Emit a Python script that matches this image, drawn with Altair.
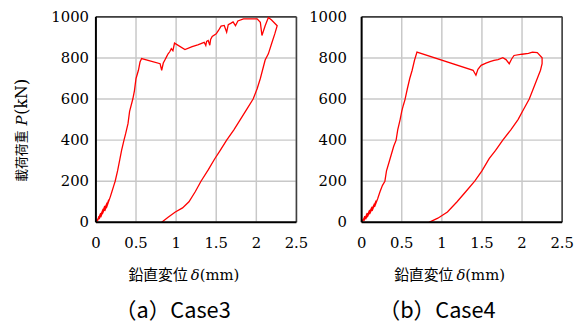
import altair as alt
import pandas as pd

# Case3: vertical displacement (mm) and load (kN)
c3_d = [0, 0.02, 0.01, 0.04, 0.02, 0.06, 0.04, 0.09, 0.06, 0.11, 0.08, 0.14, 0.11, 0.16, 0.13, 0.18,
        0.20, 0.22, 0.24, 0.27, 0.30, 0.32, 0.35, 0.37, 0.40, 0.42, 0.46, 0.48, 0.50, 0.53, 0.55, 0.57,
        0.80, 0.82, 0.84, 0.86, 0.88, 0.90, 0.92, 0.94, 0.96, 0.98, 1.11, 1.20, 1.27, 1.35, 1.37, 1.38,
        1.40, 1.42, 1.43, 1.45, 1.50, 1.53, 1.56, 1.60, 1.63, 1.65, 1.68, 1.71, 1.74, 1.77, 1.84, 2.01,
        2.05, 2.07, 2.11, 2.15, 2.19, 2.26,
        2.23, 2.19, 2.15, 2.11, 2.08, 2.05, 2.01, 1.96, 1.88, 1.80, 1.72, 1.63, 1.55, 1.48, 1.40, 1.31,
        1.24, 1.16, 1.08, 0.99, 0.90, 0.82]
c3_p = [0, 15, 3, 30, 8, 45, 15, 65, 25, 80, 40, 95, 55, 110, 70, 125,
        150, 175, 200, 250, 310, 350, 400, 430, 480, 540, 600, 640, 700, 740, 780, 797,
        772, 740, 775, 790, 805, 820, 830, 845, 835, 872, 841, 855, 864, 876, 860, 880,
        885, 862, 890, 905, 917, 935, 955, 958, 925, 962, 968, 975, 957, 980, 990, 990,
        973, 909, 957, 997, 985, 957,
        917, 869, 820, 790, 745, 700, 650, 600, 550, 500, 450, 400, 350, 308, 255, 200,
        150, 100, 70, 50, 25, 0]

# Case4
c4_d = [0, 0.02, 0.01, 0.04, 0.03, 0.07, 0.05, 0.10, 0.07, 0.13, 0.10, 0.16, 0.13, 0.18, 0.16, 0.20,
        0.23, 0.26, 0.29, 0.31, 0.34, 0.37, 0.40, 0.43, 0.45, 0.48, 0.50, 0.52, 0.54, 0.57, 0.60, 0.63,
        0.66, 0.69,
        1.39, 1.425, 1.45, 1.49, 1.55, 1.60, 1.65, 1.70, 1.76, 1.80, 1.84, 1.87, 1.90, 2.00, 2.08, 2.13,
        2.19, 2.25, 2.25,
        2.23, 2.19, 2.14, 2.09, 2.02, 1.95, 1.86, 1.76, 1.67, 1.59, 1.50, 1.41, 1.30, 1.19, 1.07, 0.95, 0.84]
c4_p = [0, 15, 3, 30, 8, 45, 15, 60, 25, 75, 40, 90, 55, 105, 75, 115,
        150, 180, 200, 250, 290, 330, 370, 400, 450, 500, 540, 570, 596, 650, 700, 740,
        790, 828,
        740, 716, 745, 764, 775, 782, 788, 792, 801, 792, 772, 795, 812, 818, 822, 828,
        826, 801, 772,
        740, 700, 650, 600, 550, 500, 450, 400, 350, 310, 250, 200, 150, 100, 50, 20, 0]

x_ticks = [0, 0.5, 1, 1.5, 2, 2.5]
x_labels = ["0", "0.5", "1", "1.5", "2", "2.5"]
y_ticks = [0, 200, 400, 600, 800, 1000]
y_labels = ["0", "200", "400", "600", "800", "1000"]

xtitle_parts = ["鉛直変位", "δ", "(mm)"]
ytitle_parts = ["載荷荷重", "P", "(kN)"]
titles = ["（a）Case3", "（b）Case4"]

W, H = 203, 208
SERIF = "DejaVu Serif"
JP = "Noto Sans CJK JP"


def panel(d, p, title_text, title_x, ylabel_dx, show_ytitle):
    xs = alt.Scale(domain=[x_ticks[0], x_ticks[-1]], nice=False)
    ys = alt.Scale(domain=[y_ticks[0], y_ticks[-1]], nice=False)
    df = pd.DataFrame({"d": d, "p": p, "i": list(range(len(d)))})
    # vertical rules: at each x tick, spanning the y range
    xg = pd.DataFrame({"v": x_ticks, "lab": x_labels,
                       "lo": [y_ticks[0]] * len(x_ticks), "hi": [y_ticks[-1]] * len(x_ticks)})
    # horizontal rules: at each y tick, spanning the x range
    yg = pd.DataFrame({"v": y_ticks, "lab": y_labels,
                       "lo": [x_ticks[0]] * len(y_ticks), "hi": [x_ticks[-1]] * len(y_ticks)})

    def vrule(data, color, width, opacity=1.0):
        return alt.Chart(data).mark_rule(color=color, strokeWidth=width, strokeOpacity=opacity).encode(
            x=alt.X("v:Q", scale=xs, axis=None),
            y=alt.Y("lo:Q", scale=ys, axis=None), y2="hi:Q")

    def hrule(data, color, width, opacity=1.0):
        return alt.Chart(data).mark_rule(color=color, strokeWidth=width, strokeOpacity=opacity).encode(
            y=alt.Y("v:Q", scale=ys, axis=None),
            x=alt.X("lo:Q", scale=xs, axis=None), x2="hi:Q")

    grid_x = vrule(xg, "#C8C8C8", 1.5)
    grid_y = hrule(yg, "#C8C8C8", 1.5)
    frame_r = vrule(xg.iloc[[-1]], "#404040", 1.6)
    frame_t = hrule(yg.iloc[[-1]], "#404040", 1.6)
    dom_l = vrule(xg.iloc[[0]], "black", 2)
    dom_b = hrule(yg.iloc[[0]], "black", 2)

    line = alt.Chart(df).mark_line(color="#FF0000", strokeWidth=1.3).encode(
        x=alt.X("d:Q", scale=xs, axis=None),
        y=alt.Y("p:Q", scale=ys, axis=None),
        order="i:Q",
    )

    xlab = alt.Chart(xg).mark_text(font=SERIF, fontSize=15, color="black", baseline="middle",
                                   align="center", dy=21).encode(
        x=alt.X("v:Q", scale=xs, axis=None), y=alt.value(H), text="lab:N")
    ylab = alt.Chart(yg).mark_text(font=SERIF, fontSize=15, color="black", baseline="middle",
                                   align="right", dx=ylabel_dx).encode(
        y=alt.Y("v:Q", scale=ys, axis=None), x=alt.value(0), text="lab:N")

    def txt(s, x, y, font, size, style="normal", angle=0, align="left"):
        kw = dict(font=font, fontSize=size, fontStyle=style, color="black",
                  baseline="middle", align=align)
        if angle:
            kw["angle"] = angle
        return alt.Chart(pd.DataFrame({"t": [s]})).mark_text(**kw).encode(
            x=alt.value(x), y=alt.value(y), text="t:N")

    layers = [grid_x, grid_y, frame_r, frame_t, line, dom_l, dom_b, xlab, ylab,
              txt(xtitle_parts[0], 33, 261, JP, 15),
              txt(xtitle_parts[1], 96, 261, SERIF, 15, "italic"),
              txt(xtitle_parts[2], 105, 261, SERIF, 15),
              txt(title_text, title_x, 297.5, JP, 22)]
    if show_ytitle:
        layers += [txt(ytitle_parts[0], -75, 167, JP, 13, angle=270),
                   txt(ytitle_parts[1], -75, 110, SERIF, 15, "italic", angle=270),
                   txt(ytitle_parts[2], -75, 99, SERIF, 16, angle=270)]
    return alt.layer(*layers).properties(
        width=W, height=H, view=alt.ViewBackground(strokeOpacity=0))


left = panel(c3_d, c3_p, titles[0], 19, -7, True)
right = panel(c4_d, c4_p, titles[1], 17, -15, False)

chart = alt.hconcat(left, right, spacing=0).properties(
    padding={"left": 6, "top": 0, "right": 0, "bottom": 0}
)

chart.save("out.html", embed_options={"renderer": "svg", "actions": False})
